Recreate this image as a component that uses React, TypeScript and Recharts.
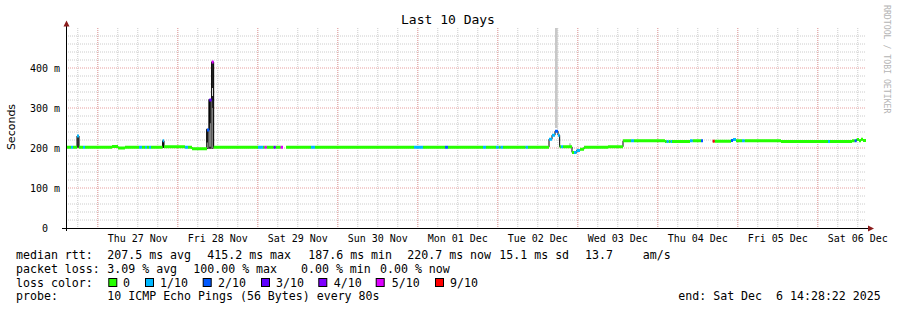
import React from "react";
import { ComposedChart, Line, XAxis, YAxis, CartesianGrid, ReferenceArea } from "recharts";

// x values are hours since the start of the window (Wed 26 Nov 14:28:22)
const END_H = 240;

// median rtt segments: start hour, median (ms), lost pings out of 10
const segStart = [
  0, 1.5, 2.1, 3.3, 3.9, 5.1, 5.7, 13.8, 15.6, 17.7, 21.9, 22.8, 23.7, 24.3, 24.9, 25.5,
  29.0, 29.4, 35.7, 36.6, 37.8, 42.3, 43.0, 43.7, 44.3, 57.6, 59.1, 59.6, 60.2, 62.3, 62.9,
  64.4, 65.1, 66.0, 73.5, 74.7, 104.4, 107.1, 113.7, 114.6, 125.1, 126.0, 129.0, 129.8,
  130.4, 131.1, 137.9, 138.6, 144.9, 145.8, 146.7, 147.6, 148.1, 148.5, 149.1, 151.8,
  152.4, 153.2, 154.2, 155.4, 162.6, 167.1, 169.5, 170.4, 179.7, 180.2, 180.8, 181.4,
  181.8, 187.2, 188.0, 190.5, 191.1, 194.0, 194.6, 199.5, 200.1, 201.0, 202.8, 203.6,
  214.5, 228.6, 229.2, 235.8, 236.6, 237.2, 237.9, 238.5, 239.1,
];
const segMedian = [
  202, 202, 202, 230, 202, 202, 202, 204, 200, 202, 202, 202, 202, 202, 202, 202,
  218, 203, 202, 202, 198, 245, 320, 415, 202, 202, 202, 202, 202, 202, 202,
  202, null, 202, 202, 202, 202, 202, 202, 202, 202, 202, 202, 202,
  202, 202, 202, 202, 222, 232, 242, 232, 203, 203, 203, 189,
  189, 194, 197, 202, 203, 218, 218, 218, 216, 216, 216, 216,
  216, 218, 218, 218, null, 217, 217, 219, 221, 218, 218, 218,
  216, 216, 216, 218, 218, 221, 218, 222, 219,
];
const segLoss = [
  0, 1, 0, 1, 0, 1, 0, 0, 0, 0, 1, 0, 1, 0, 1, 0,
  1, 0, 1, 0, 0, 2, 3, 5, 0, 1, 0, 5, 0, 3, 0,
  5, 0, 0, 1, 0, 1, 0, 2, 0, 1, 0, 1, 0,
  1, 0, 1, 0, 1, 1, 2, 1, 0, 1, 0, 0,
  1, 1, 0, 0, 0, 0, 1, 0, 0, 1, 0, 1,
  0, 1, 0, 2, 0, 9, 0, 2, 1, 0, 1, 0,
  0, 1, 0, 0, 2, 0, 0, 0, 0,
];

// smoke (spread of the pings)
const smokeFrom = [3.4, 28.9, 42.0, 42.2, 42.7, 42.9, 43.6, 43.75, 43.75, 146.7, 150.9];
const smokeTo = [3.8, 29.4, 42.7, 42.6, 43.6, 43.5, 44.3, 44.1, 44.1, 147.5, 151.5];
const smokeLow = [200, 200, 198, 200, 198, 203, 198, 200, 330, 250, 203];
const smokeHigh = [230, 218, 248, 214, 322, 262, 416, 300, 350, 500, 212];
const smokeShade = ["#1c1c1c", "#1c1c1c", "#303030", "#ffffff", "#262626", "#808080", "#262626", "#7a7a7a", "#ffffff", "#c8c8c8", "#c8c8c8"];

const dayLabels = ["Thu 27 Nov", "Fri 28 Nov", "Sat 29 Nov", "Sun 30 Nov", "Mon 01 Dec", "Tue 02 Dec", "Wed 03 Dec", "Thu 04 Dec", "Fri 05 Dec", "Sat 06 Dec"];
const dayNoon = [21.53, 45.53, 69.53, 93.53, 117.53, 141.53, 165.53, 189.53, 213.53, 237.53];
const midnights = [9.53, 33.53, 57.53, 81.53, 105.53, 129.53, 153.53, 177.53, 201.53, 225.53];
const sixHours = [
  3.53, 9.53, 15.53, 21.53, 27.53, 33.53, 39.53, 45.53, 51.53, 57.53, 63.53, 69.53, 75.53, 81.53,
  87.53, 93.53, 99.53, 105.53, 111.53, 117.53, 123.53, 129.53, 135.53, 141.53, 147.53, 153.53,
  159.53, 165.53, 171.53, 177.53, 183.53, 189.53, 195.53, 201.53, 207.53, 213.53, 219.53,
  225.53, 231.53, 237.53,
];
const msTicks = [0, 100, 200, 300, 400];
const msMinor = [20, 40, 60, 80, 120, 140, 160, 180, 220, 240, 260, 280, 320, 340, 360, 380, 420, 440, 460, 480];

const lossLevels = [0, 1, 2, 3, 4, 5, 9];
const lossLabels = ["0", "1/10", "2/10", "3/10", "4/10", "5/10", "9/10"];
const lossColors = ["#26ff00", "#00b8ff", "#0059ff", "#5e00ff", "#7e00ff", "#dd00ff", "#ff0000"];

const rttStats = ["207.5 ms avg", "415.2 ms max", "187.6 ms min", "220.7 ms now", "15.1 ms sd", "13.7", "am/s"];
const lossStats = ["3.09 % avg", "100.00 % max", "0.00 % min", "0.00 % now"];

const MONO = "'DejaVu Sans Mono', monospace";

const segs = segStart.map((s, i) => ({
  s,
  e: i + 1 < segStart.length ? segStart[i + 1] : END_H,
  v: segMedian[i],
  loss: segLoss[i],
}));

const stepData = segs.map((g) => ({ t: g.s, v: g.v })).concat([{ t: END_H, v: segs[segs.length - 1].v }]);

const classData = (level: number) =>
  segs
    .filter((g) => g.loss === level && g.v != null)
    .flatMap((g) => [
      { t: g.s, v: g.v },
      { t: g.e, v: g.v },
      { t: g.e, v: null },
    ]);

const xPos = (props: any, t: number) => {
  const sc = props?.xAxis?.scale;
  if (typeof sc === "function") return sc(t);
  return props.offset.left + (t / END_H) * props.offset.width;
};
const yPos = (props: any, v: number) => {
  const sc = props?.yAxis?.scale;
  if (typeof sc === "function") return sc(v);
  return props.offset.top + (1 - v / 500) * props.offset.height;
};

const YTick = ({ y, payload }: any) => {
  const v = payload.value;
  return (
    <text x={v === 0 ? 48 : 60} y={y + 3.5} textAnchor="end" fontFamily={MONO} fontSize={10} fill="#000" xmlSpace="preserve">
      {v === 0 ? "0" : `${v} m`}
    </text>
  );
};

const XTick = ({ x, payload }: any) => {
  const i = dayNoon.indexOf(payload.value);
  return (
    <text x={x} y={242} textAnchor="middle" fontFamily={MONO} fontSize={10} fill="#000">
      {dayLabels[i]}
    </text>
  );
};

const rttX = [107.3, 207.3, 308.3, 407.3, 499.3, 585, 642.7];
const lossX = [107.3, 193.3, 301, 380];
const boxX = [108.3, 145, 202.7, 261, 318.3, 375.7, 435];
const boxLabelX = [123, 160, 218, 276, 333.7, 391.7, 450];

const usedLevels = lossLevels.filter((lvl) => classData(lvl).length > 0);

export default function App() {
  return (
    <div style={{ position: "absolute", left: 0, top: 0, width: 897, height: 310, background: "#fff" }}>
      <ComposedChart width={897} height={310} data={stepData} margin={{ top: 28, right: 31, bottom: 52, left: 8 }}>
        <CartesianGrid
          stroke="#cccccc"
          strokeDasharray="1 1"
          verticalCoordinatesGenerator={(p: any) => sixHours.map((t) => xPos(p, t))}
          horizontalCoordinatesGenerator={(p: any) => msMinor.map((v) => yPos(p, v))}
        />
        <CartesianGrid
          stroke="#e8a0a0"
          strokeDasharray="1 1"
          verticalCoordinatesGenerator={(p: any) => midnights.map((t) => xPos(p, t))}
          horizontalCoordinatesGenerator={(p: any) => msTicks.filter((v) => v > 0).map((v) => yPos(p, v))}
        />
        <XAxis
          type="number"
          dataKey="t"
          domain={[0, END_H]}
          ticks={dayNoon}
          interval={0}
          height={30}
          axisLine={false}
          tickLine={false}
          tick={<XTick />}
          allowDataOverflow
        />
        <YAxis
          type="number"
          domain={[0, 500]}
          ticks={msTicks}
          interval={0}
          width={58}
          axisLine={false}
          tickLine={false}
          tick={<YTick />}
          allowDataOverflow
        />
        {smokeFrom.map((x1, i) => (
          <ReferenceArea
            key={`smoke-${i}`}
            x1={x1}
            x2={smokeTo[i]}
            y1={smokeLow[i]}
            y2={smokeHigh[i]}
            fill={smokeShade[i]}
            fillOpacity={1}
            stroke="none"
            ifOverflow="visible"
          />
        ))}
        <Line
          data={stepData}
          dataKey="v"
          type="stepAfter"
          stroke="#000"
          strokeWidth={1}
          dot={false}
          activeDot={false}
          isAnimationActive={false}
        />
        {usedLevels.map((lvl) => (
          <Line
            key={`loss-${lvl}`}
            data={classData(lvl)}
            dataKey="v"
            type="linear"
            stroke={lossColors[lossLevels.indexOf(lvl)]}
            strokeWidth={3}
            strokeLinecap="butt"
            dot={false}
            activeDot={false}
            isAnimationActive={false}
          />
        ))}
      </ComposedChart>

      <svg width={897} height={310} style={{ position: "absolute", left: 0, top: 0, pointerEvents: "none" }}>
        {/* axes + arrows */}
        <line x1={66.5} y1={26} x2={66.5} y2={231} stroke="#000" strokeWidth={1} />
        <line x1={62} y1={228.5} x2={868} y2={228.5} stroke="#000" strokeWidth={1} />
        <polygon points="63.5,26.5 69.5,26.5 66.5,20.5" fill="#8b1c1c" />
        <polygon points="868,225.5 868,231.5 874,228.5" fill="#8b1c1c" />

        <text x={448} y={24} textAnchor="middle" fontFamily={MONO} fontSize={13} fill="#000">
          Last 10 Days
        </text>
        <text
          x={0}
          y={0}
          transform="translate(15,127) rotate(-90)"
          textAnchor="middle"
          fontFamily="'DejaVu Sans', sans-serif"
          fontSize={11}
          fill="#000"
        >
          Seconds
        </text>
        <text
          x={0}
          y={0}
          transform="translate(884,5) rotate(90)"
          fontFamily={MONO}
          fontSize={8.2}
          fill="#b4b4b4"
          xmlSpace="preserve"
        >
          RRDTOOL / TOBI OETIKER
        </text>

        <g fontFamily={MONO} fontSize={11.6} fill="#000">
          <text x={16} y={259}>median rtt:</text>
          {rttStats.map((s, i) => (
            <text key={`r${i}`} x={rttX[i]} y={259}>{s}</text>
          ))}
          <text x={16} y={272.5}>packet loss:</text>
          {lossStats.map((s, i) => (
            <text key={`p${i}`} x={lossX[i]} y={272.5}>{s}</text>
          ))}
          <text x={16} y={286.5}>loss color:</text>
          {lossLabels.map((s, i) => (
            <g key={`b${i}`}>
              <rect x={boxX[i] + 0.5} y={278.5} width={8} height={8} fill={lossColors[i]} stroke="#000" strokeWidth={1} />
              <text x={boxLabelX[i]} y={286.5}>{s}</text>
            </g>
          ))}
          <text x={16} y={300}>probe:</text>
          <text x={107.3} y={300}>10 ICMP Echo Pings (56 Bytes) every 80s</text>
          <text x={678.3} y={300} xmlSpace="preserve">end: Sat Dec  6 14:28:22 2025</text>
        </g>
      </svg>
    </div>
  );
}
